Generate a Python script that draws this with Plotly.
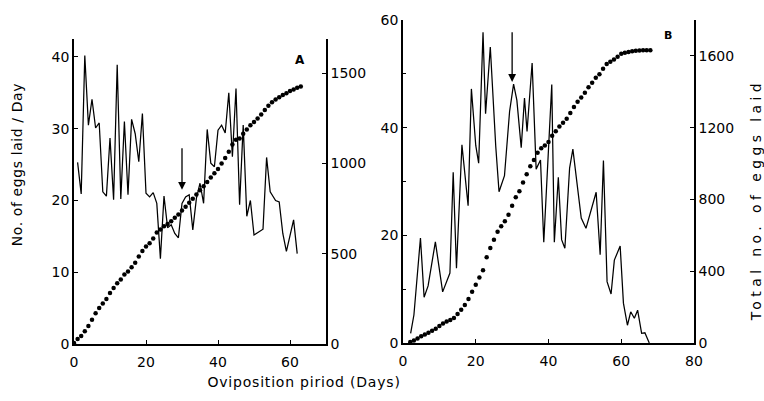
import plotly.graph_objects as go

# ---------------- Data ----------------
# Panel A: daily eggs (left axis) and cumulative eggs (right axis)
days_a = list(range(1, 51)) + [52.5, 53.5, 54.5, 56, 57, 58, 59, 61, 62]
daily_a = [25.3, 20.9, 40.2, 30.5, 34.1, 30.1, 30.8, 21.2, 20.6, 28.7,
           20.1, 38.9, 20.2, 31.0, 20.8, 31.3, 29.3, 25.4, 32.1, 21.0,
           20.5, 21.1, 19.6, 11.9, 20.6, 16.2, 16.6, 15.4, 14.8, 19.6,
           20.5, 20.8, 15.9, 20.3, 22.4, 19.6, 29.9, 25.2, 24.7, 29.8,
           30.5, 29.4, 35.0, 26.1, 35.6, 19.4, 30.5, 17.8, 20.0, 15.2,
           16.0, 26.0, 21.2, 20.0, 19.8, 15.4, 12.9, 17.3, 12.6]
cum_days_a = list(range(0, 64))
cum_a = [5, 28, 45, 70, 100, 135, 170, 200, 225, 250,
         282, 310, 337, 358, 385, 402, 425, 450, 485, 515,
         540, 558, 585, 618, 635, 652, 665, 680, 700, 718,
         740, 760, 782, 805, 828, 852, 874, 898, 922, 946,
         970, 1000, 1030, 1065, 1105, 1132, 1138, 1165, 1188, 1212,
         1230, 1250, 1272, 1296, 1320, 1340, 1355, 1367, 1380, 1390,
         1402, 1410, 1420, 1427]

# Panel B
days_b = [2.1, 3.0, 4.8, 5.8, 6.9, 8.9, 10.9, 12.9, 13.8, 14.7,
          16.2, 17.9, 18.8, 20.0, 20.8, 22.0, 22.7, 24.0, 25.5, 26.4,
          27.9, 29.3, 30.4, 31.3, 32.5, 33.4, 34.1, 35.5, 36.6, 37.8,
          38.7, 39.8, 40.9, 41.6, 42.7, 43.6, 44.5, 45.8, 46.7, 49.0,
          50.3, 53.1, 54.2, 55.1, 56.1, 57.2, 58.1, 59.7, 60.6, 61.7,
          62.6, 63.6, 64.5, 65.6, 66.5, 67.7]
daily_b = [1.8, 5.2, 19.5, 8.5, 10.6, 18.8, 9.5, 13.0, 31.7, 13.9,
           36.8, 25.5, 47.2, 36.7, 33.4, 57.7, 42.6, 55.0, 36.5, 28.1,
           31.1, 43.0, 48.1, 45.1, 36.3, 45.5, 39.3, 52.0, 32.3, 34.0,
           18.7, 32.4, 48.0, 18.7, 30.8, 19.2, 17.6, 32.5, 36.0, 23.2,
           21.3, 28.0, 16.4, 33.9, 11.4, 9.1, 15.4, 18.0, 7.4, 3.3,
           5.8, 4.6, 6.1, 1.8, 1.9, 0.0]
cum_days_b = list(range(2, 69))
cum_b = [5, 14, 25, 38, 48, 57, 68, 80, 95, 108,
         120, 128, 140, 162, 185, 212, 245, 285, 325, 365,
         405, 478, 530, 575, 620, 650, 678, 715, 765, 812,
         846, 895, 940, 985, 1020, 1060, 1085, 1100, 1120, 1155,
         1180, 1206, 1228, 1250, 1282, 1315, 1345, 1368, 1395, 1425,
         1450, 1478, 1498, 1528, 1555, 1568, 1580, 1595, 1612, 1618,
         1622, 1626, 1629, 1630, 1631, 1631, 1631]

# Arrows (day, tip value, tail value) on the daily axis
arrow_a = (30, 21.5, 27.5)
arrow_b = (30, 48.5, 58.0)

# ---------------- Figure ----------------
W, H = 764, 401
FONT = "DejaVu Sans"
BLACK = "#000000"


def px_x(p):
    return p / W


def px_y(p):
    return 1 - p / H


fig = go.Figure()

line_style = dict(color=BLACK, width=1.25)
dot_style = dict(color=BLACK, size=4.5)

fig.add_trace(go.Scatter(x=days_a, y=daily_a, mode="lines", line=line_style,
                         xaxis="x", yaxis="y", showlegend=False))
fig.add_trace(go.Scatter(x=cum_days_a, y=cum_a, mode="markers", marker=dot_style,
                         xaxis="x", yaxis="y2", showlegend=False))
fig.add_trace(go.Scatter(x=days_b, y=daily_b, mode="lines", line=line_style,
                         xaxis="x2", yaxis="y3", showlegend=False))
fig.add_trace(go.Scatter(x=cum_days_b, y=cum_b, mode="markers", marker=dot_style,
                         xaxis="x2", yaxis="y4", showlegend=False))

tickfont = dict(family=FONT, size=14, color=BLACK)
common = dict(showgrid=False, zeroline=False, showline=True, linecolor=BLACK,
              linewidth=1.5, ticks="inside", ticklen=4, tickwidth=1.2,
              tickcolor=BLACK, tickfont=tickfont, automargin=False)

dom_ax = [px_x(74), px_x(326)]
dom_ay = [px_y(344), px_y(39)]
dom_bx = [px_x(403), px_x(694)]
dom_by = [px_y(343), px_y(20)]

fig.update_layout(
    template="none",
    width=W, height=H,
    margin=dict(l=0, r=0, t=0, b=0, pad=0),
    paper_bgcolor="white", plot_bgcolor="white",
    xaxis=dict(domain=dom_ax, anchor="y", range=[0, 70], dtick=20,
               ticklabelstandoff=4, **common),
    yaxis=dict(domain=dom_ay, anchor="x", range=[0, 42.5], dtick=10, **common),
    yaxis2=dict(overlaying="y", anchor="x", side="right", range=[0, 1690],
                tickvals=[0, 500, 1000, 1500], **common),
    xaxis2=dict(domain=dom_bx, anchor="y3", range=[0, 80], dtick=20,
                ticklabelstandoff=4, **common),
    yaxis3=dict(domain=dom_by, anchor="x2", range=[0, 60], dtick=20,
                minor=dict(dtick=10, ticks="inside", ticklen=3, tickcolor=BLACK),
                **common),
    yaxis4=dict(overlaying="y3", anchor="x2", side="right", range=[0, 1800],
                tickvals=[0, 400, 800, 1200, 1600], **common),
)

title_font = dict(family=FONT, size=14, color=BLACK)
annotations = [
    dict(text="No. of eggs laid / Day", x=px_x(17), y=px_y(165), xref="paper",
         yref="paper", textangle=-90, showarrow=False, font=title_font,
         xanchor="center", yanchor="middle"),
    dict(text="Total no. of eggs laid", x=px_x(756), y=px_y(202), xref="paper",
         yref="paper", textangle=-90, showarrow=False, font=title_font,
         xanchor="center", yanchor="middle"),
    dict(text="Oviposition piriod (Days)", x=px_x(303), y=px_y(382), xref="paper",
         yref="paper", showarrow=False, font=title_font,
         xanchor="center", yanchor="middle"),
    dict(text="<b>A</b>", x=px_x(300), y=px_y(60), xref="paper", yref="paper",
         showarrow=False, font=dict(family=FONT, size=12, color=BLACK),
         xanchor="center", yanchor="middle"),
    dict(text="<b>B</b>", x=px_x(668), y=px_y(35), xref="paper", yref="paper",
         showarrow=False, font=dict(family=FONT, size=11, color=BLACK),
         xanchor="center", yanchor="middle"),
    dict(x=arrow_a[0], y=arrow_a[1], ax=arrow_a[0], ay=arrow_a[2],
         xref="x", yref="y", axref="x", ayref="y", showarrow=True,
         arrowhead=2, arrowsize=1.2, arrowwidth=1.3, arrowcolor=BLACK, text=""),
    dict(x=arrow_b[0], y=arrow_b[1], ax=arrow_b[0], ay=arrow_b[2],
         xref="x2", yref="y3", axref="x2", ayref="y3", showarrow=True,
         arrowhead=2, arrowsize=1.2, arrowwidth=1.3, arrowcolor=BLACK, text=""),
]
fig.update_layout(annotations=annotations)

post = """
document.body.style.margin = '0';
document.body.style.padding = '0';
var gd = document.getElementById('{plot_id}');
var spacing = {'Total': 4.4, 'No.': 0.6, 'Ovip': 0.8};
function spaceTitles(){
  var els = gd.querySelectorAll('.annotation-text');
  els.forEach(function(t){
    var s = t.textContent;
    var sp = null;
    Object.keys(spacing).forEach(function(k){ if (s.indexOf(k) === 0) sp = spacing[k]; });
    if (sp === null) return;
    if (t.getAttribute('data-spaced') === '1') return;
    var b0 = t.getBBox();
    var c0 = b0.x + b0.width / 2;
    t.style.letterSpacing = sp + 'px';
    var b1 = t.getBBox();
    var c1 = b1.x + b1.width / 2;
    var x0 = parseFloat(t.getAttribute('x') || '0');
    t.setAttribute('x', x0 - (c1 - c0) + sp / 2);
    t.setAttribute('data-spaced', '1');
  });
}
spaceTitles();
setTimeout(spaceTitles, 50);
if (gd.on) gd.on('plotly_afterplot', spaceTitles);
"""

fig.write_html("out.html", post_script=post, config={"displayModeBar": False})
